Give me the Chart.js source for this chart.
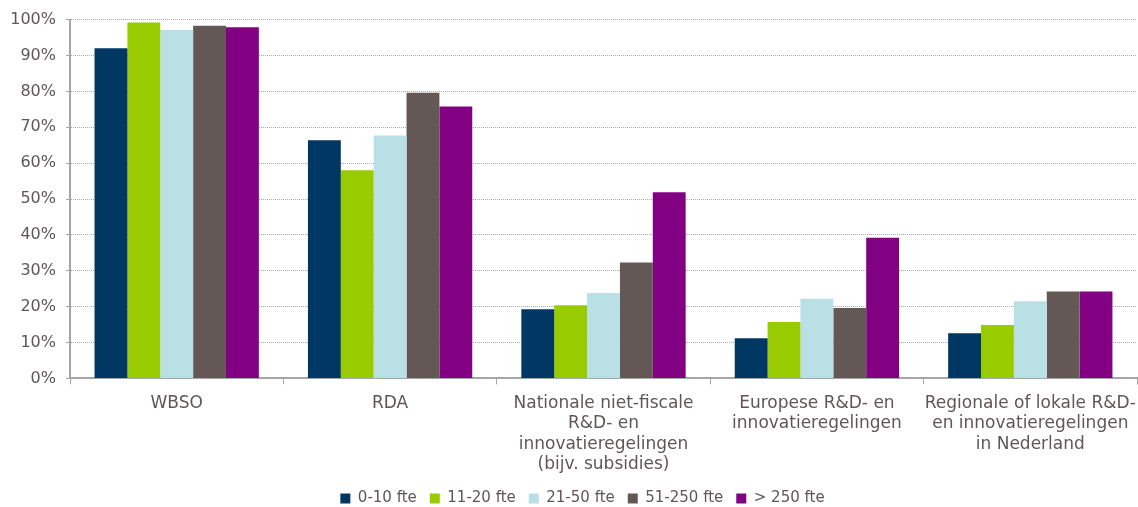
<!DOCTYPE html>
<html>
<head>
<meta charset="utf-8">
<script src="https://cdn.jsdelivr.net/npm/chart.js@4/dist/chart.umd.min.js"></script>
<style>
  html, body { margin: 0; padding: 0; background: #fff; }
  #wrap { width: 1138px; height: 507px; position: relative; }
</style>
</head>
<body>
<div id="wrap"><canvas id="grafRegelingen"></canvas></div>
<script>
// categorieen (regelingen)
const categorieen = [
    'WBSO',
    'RDA',
    ['Nationale niet-fiscale', 'R&D- en', 'innovatieregelingen', '(bijv. subsidies)'],
    ['Europese R&D- en', 'innovatieregelingen'],
    ['Regionale of lokale R&D-', 'en innovatieregelingen', 'in Nederland']
];

// aandeel bedrijven per grootteklasse (%)
const fte0_10 = [92.0, 66.4, 19.3, 11.2, 12.6];
const fte11_20 = [99.2, 58.0, 20.4, 15.7, 14.9];
const fte21_50 = [97.1, 67.7, 23.8, 22.2, 21.5];
const fte51_250 = [98.3, 79.6, 32.3, 19.6, 24.2];
const fte250plus = [97.9, 75.8, 51.9, 39.2, 24.2];

const reeksNamen = ['0-10 fte', '11-20 fte', '21-50 fte', '51-250 fte', '> 250 fte'];
const reeksKleuren = ['#003763', '#99cc00', '#b9e0e4', '#645856', '#820082'];

const yTicks = [0, 10, 20, 30, 40, 50, 60, 70, 80, 90, 100];

const tekstKleur = '#5f5757';
const asKleur = '#a6a6a6';
const lettertype = 'DejaVu Sans';

const reeksen = [fte0_10, fte11_20, fte21_50, fte51_250, fte250plus];

Chart.defaults.font.family = lettertype;

// legenda staat in het origineel iets rechts van het midden
const legendaVerschuiving = {
    id: 'legendaVerschuiving',
    afterLayout(chart) {
        if (chart.legend) {
            chart.legend.left += 14;
            chart.legend.right += 14;
        }
    }
};

const ctx = document.getElementById('grafRegelingen').getContext('2d');

window.grafRegelingen = new Chart(ctx, {
    type: 'bar',
    data: {
        labels: categorieen,
        datasets: reeksen.map((waarden, i) => ({
            label: reeksNamen[i],
            data: waarden,
            backgroundColor: reeksKleuren[i],
            borderWidth: 0,
            categoryPercentage: 0.77,
            barPercentage: 1.0
        }))
    },
    plugins: [legendaVerschuiving],
    options: {
        responsive: true,
        maintainAspectRatio: false,
        animation: false,
        devicePixelRatio: 1,
        layout: { padding: { left: 0, right: 1, top: 18, bottom: -9 } },
        plugins: {
            legend: {
                position: 'bottom',
                labels: {
                    color: tekstKleur,
                    boxWidth: 10,
                    boxHeight: 10,
                    padding: 13,
                    font: { family: lettertype, size: 15 }
                }
            },
            tooltip: { enabled: false }
        },
        scales: {
            x: {
                afterFit: scale => {
                    // labels mogen buiten het plotgebied uitsteken
                    scale.paddingLeft = 0;
                    scale.paddingRight = 0;
                    scale.height -= 6;
                },
                grid: {
                    offset: true,
                    drawOnChartArea: false,
                    drawTicks: true,
                    tickLength: 6,
                    tickColor: asKleur
                },
                border: { color: asKleur, width: 2 },
                ticks: {
                    color: tekstKleur,
                    padding: 9,
                    maxRotation: 0,
                    autoSkip: false,
                    font: { family: lettertype, size: 17, lineHeight: 1.2 }
                }
            },
            y: {
                min: 0,
                max: 100,
                afterBuildTicks: scale => {
                    scale.ticks = yTicks.map(v => ({ value: v }));
                },
                afterFit: scale => { scale.width = 70; },
                grid: {
                    color: '#a8a8a8',
                    tickColor: asKleur,
                    tickLength: 4,
                    lineWidth: 1
                },
                border: { color: asKleur, width: 2, dash: [1, 1] },
                ticks: {
                    color: tekstKleur,
                    padding: 10,
                    font: { family: lettertype, size: 16 },
                    callback: v => v + '%'
                }
            }
        }
    }
});
</script>
</body>
</html>
